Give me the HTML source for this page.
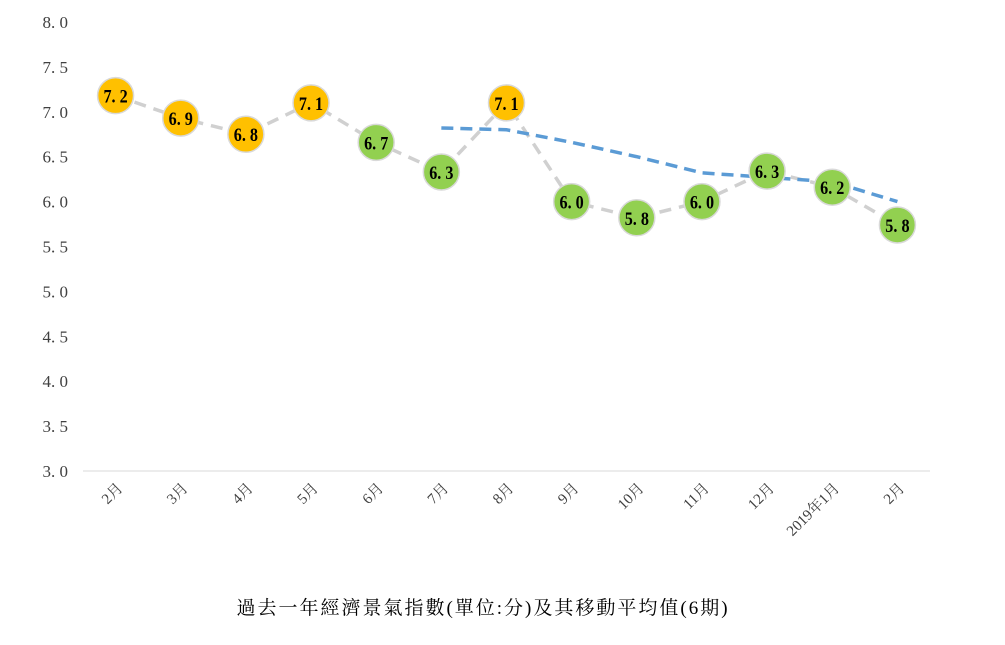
<!DOCTYPE html>
<html><head><meta charset="utf-8">
<style>
html,body{margin:0;padding:0;background:#fff;}
svg{display:block;font-family:"Liberation Serif","Noto Serif CJK SC",serif;}
</style></head>
<body>
<svg id="chart" width="1005" height="645" viewBox="0 0 1005 645">
<g id="yaxis"></g>
<g id="xaxis"></g>
<g id="series"></g>
<text x="483" y="614" text-anchor="middle" font-size="19" fill="#000" letter-spacing="2">過去一年經濟景氣指數(單位:分)及其移動平均值(6期)</text>
</svg>
<script>
const categories = ["2月","3月","4月","5月","6月","7月","8月","9月","10月","11月","12月","2019年1月","2月"];
const values = [7.2,6.9,6.8,7.1,6.7,6.3,7.1,6.0,5.8,6.0,6.3,6.2,5.8];
const plotValues = [7.18,6.93,6.75,7.1,6.66,6.33,7.1,6.0,5.82,6.0,6.34,6.16,5.74];
const movingAvg = [null,null,null,null,null,6.82,6.8,6.66,6.5,6.32,6.27,6.22,6.0];
const highlight = [true,true,true,true,false,false,true,false,false,false,false,false,false];
const yTicks = [3.0,3.5,4.0,4.5,5.0,5.5,6.0,6.5,7.0,7.5,8.0];

const NS="http://www.w3.org/2000/svg";
const x0=83,x1=930,y3=471,y8=22;
const band=(x1-x0)/categories.length;
function xPos(i){return x0+band*(i+0.5);}
function yPos(v){return y3-(v-3)*(y3-y8)/5;}
function mk(tag,attrs,parent){const e=document.createElementNS(NS,tag);for(const k in attrs)e.setAttribute(k,attrs[k]);parent.appendChild(e);return e;}

const ya=document.getElementById('yaxis');
yTicks.forEach(t=>{
  const tx=mk('text',{x:68,y:yPos(t)+6,'text-anchor':'end','font-size':17,fill:'#404040'},ya);
  
  
  tx.textContent=t.toFixed(1).replace('.', '. ');
});
const xa=document.getElementById('xaxis');
const ax=mk('line',{x1:x0,x2:x1,y1:y3,y2:y3,stroke:'#d9d9d9','stroke-width':1},xa);


categories.forEach((c,i)=>{
  const tx=mk('text',{x:xPos(i)+8,y:y3+18,'text-anchor':'end','font-size':15,fill:'#404040',transform:`rotate(-45 ${xPos(i)+8} ${y3+18})`},xa);
  
  
  tx.textContent=c;
});

const s=document.getElementById('series');
const pts=plotValues.map((v,i)=>xPos(i)+','+yPos(v)).join(' ');
const gl=mk('polyline',{points:pts,fill:'none',stroke:'#d0d0d0','stroke-width':3.5,'stroke-dasharray':'12 8'},s);


const maPts=movingAvg.map((v,i)=>v==null?null:xPos(i)+','+yPos(v)).filter(p=>p).join(' ');
const bl=mk('polyline',{points:maPts,fill:'none',stroke:'#5b9bd5','stroke-width':3.5,'stroke-dasharray':'12 7'},s);


plotValues.forEach((v,i)=>{
  const c=mk('circle',{cx:xPos(i),cy:yPos(v),r:18,fill:highlight[i]?'#ffc000':'#92d050',stroke:'#d9d9d9','stroke-width':1.5},s);
  
  
  const t=mk('text',{x:xPos(i),y:yPos(v)+7,'text-anchor':'middle','font-size':19,'font-weight':'bold',fill:'#000',transform:`translate(${xPos(i)} 0) scale(0.85 1) translate(${-xPos(i)} 0)`},s);
  
  
  t.textContent=values[i].toFixed(1).replace('.', '. ');
});
</script>
</body></html>
